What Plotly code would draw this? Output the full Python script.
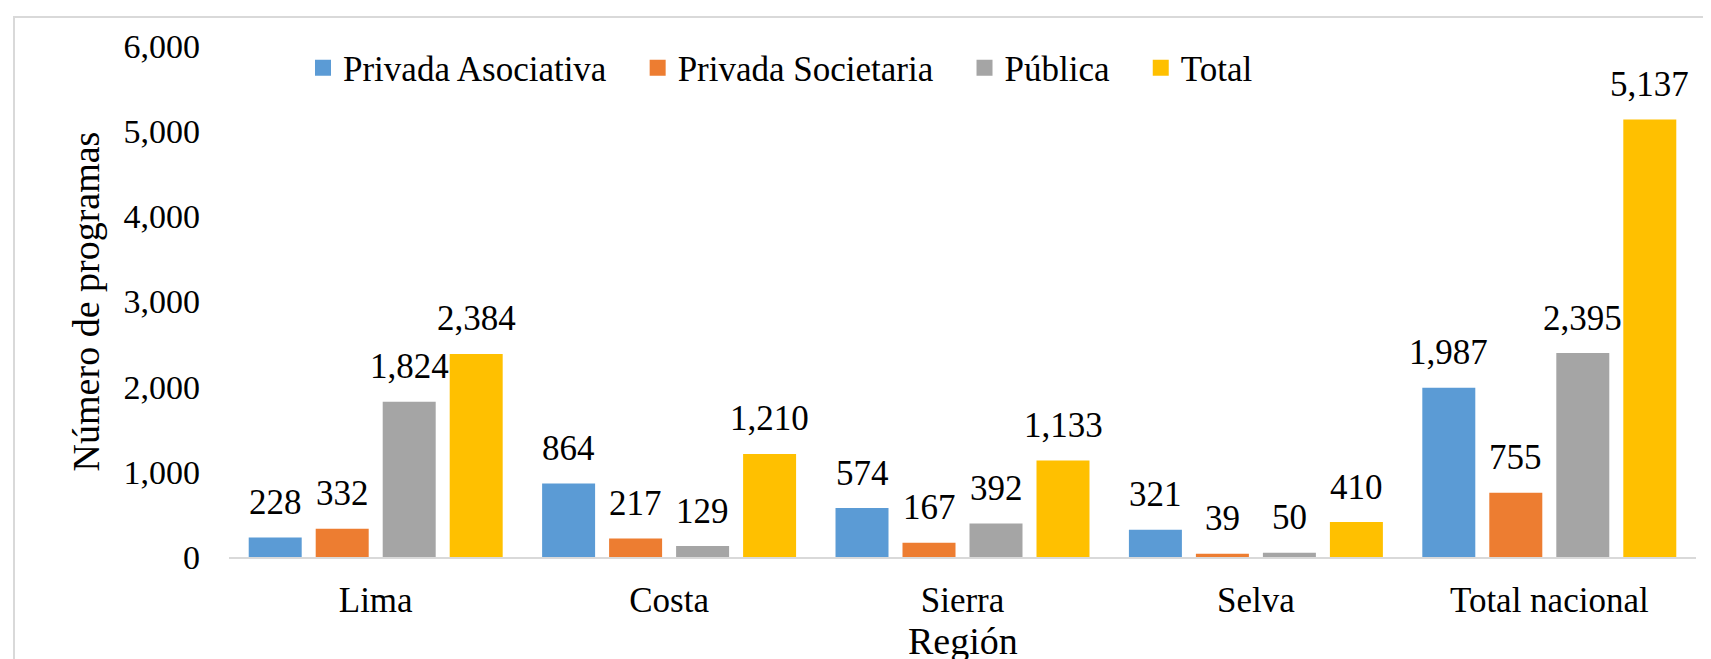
import plotly.graph_objects as go

categories = ["Lima", "Costa", "Sierra", "Selva", "Total nacional"]
series_names = ["Privada Asociativa", "Privada Societaria", "Pública", "Total"]
privada_asociativa = [228, 864, 574, 321, 1987]
privada_societaria = [332, 217, 167, 39, 755]
publica = [1824, 129, 392, 50, 2395]
total = [2384, 1210, 1133, 410, 5137]
colors = ["#5B9BD5", "#ED7D31", "#A5A5A5", "#FFC000"]

W, H = 1711, 659
ML, MR, MT, MB = 221, 23, 38, 110
BARGAP = 0.0866
FONT = "Liberation Serif, Times New Roman, serif"
FS = 35
NB = "\u00a0"

series = [privada_asociativa, privada_societaria, publica, total]

fig = go.Figure()
for name, vals, col in zip(series_names, series, colors):
    fig.add_trace(go.Bar(x=categories, y=vals, name=name, marker_color=col,
                         marker_line_width=0, showlegend=False))
# legend entries (square swatches)
for i, (name, col) in enumerate(zip(series_names, colors)):
    label = name + (NB * 3 if i < len(series_names) - 1 else "")
    fig.add_trace(go.Scatter(x=[None], y=[None], mode="markers", name=label,
                             marker=dict(symbol="square", size=16, color=col),
                             showlegend=True, hoverinfo="skip"))

# data labels above bars
slot = (1 - BARGAP) / len(series)
for si, vals in enumerate(series):
    off = (si - (len(series) - 1) / 2) * slot
    for ci, v in enumerate(vals):
        fig.add_annotation(x=ci + off, y=v, xref="x", yref="y", text=f"{v:,}",
                           showarrow=False, yanchor="middle", yshift=35,
                           font=dict(family=FONT, size=FS, color="#000000"))

pw = W - ML - MR
ph = H - MT - MB
# x-axis title (placed as in the reference, near the page's bottom edge)
fig.add_annotation(x=0.5, y=-(633 - (H - MB)) / ph, xref="paper", yref="paper",
                   text="Región", showarrow=False, xanchor="center", yanchor="middle",
                   font=dict(family=FONT, size=38, color="#000000"))
# chart-area border
fig.add_shape(type="rect", xref="paper", yref="paper",
              x0=(6 - ML) / pw, x1=(W + 20 - ML) / pw,
              y0=-(H + 20 - MT - ph) / ph, y1=1 + (MT - 9) / ph,
              line=dict(color="#D9D9D9", width=2), fillcolor="rgba(0,0,0,0)", layer="below")

fig.update_layout(
    width=W, height=H,
    margin=dict(l=ML, r=MR, t=MT, b=MB, autoexpand=False),
    paper_bgcolor="white", plot_bgcolor="white",
    barmode="group", bargap=BARGAP, bargroupgap=0.209,
    font=dict(family=FONT, size=FS, color="#000000"),
    legend=dict(orientation="h", x=(295 - ML) / pw, xanchor="left",
                y=1 - (60 - MT) / ph, yanchor="middle",
                bgcolor="rgba(0,0,0,0)", font=dict(family=FONT, size=FS),
                itemwidth=30, traceorder="normal"),
    showlegend=True,
)
fig.update_xaxes(range=[-0.5, 4.5], showline=True, linecolor="#D9D9D9", linewidth=2,
                 showgrid=False, ticks="", ticklabelstandoff=11,
                 tickfont=dict(family=FONT, size=FS), automargin=False)
fig.update_yaxes(range=[0, 6000], dtick=1000, tickformat=",", showline=False,
                 showgrid=False, zeroline=False, ticks="", ticklabelstandoff=28,
                 title=dict(text="Número de programas", font=dict(family=FONT, size=38), standoff=12),
                 tickfont=dict(family=FONT, size=34), automargin=False)

fig.write_html("out.html")
